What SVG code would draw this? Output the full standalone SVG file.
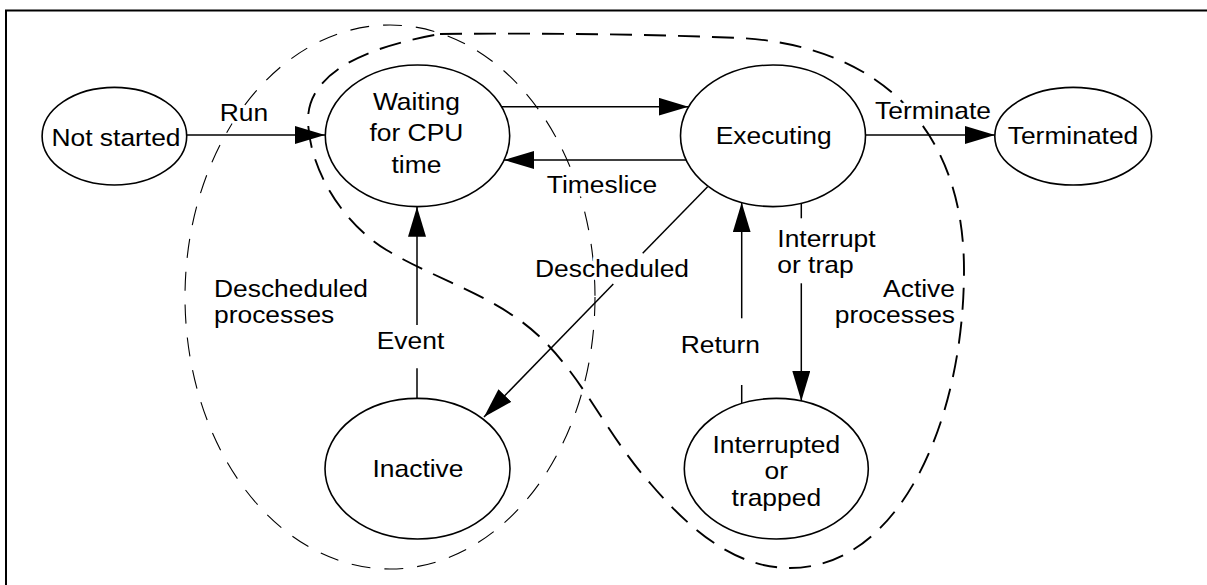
<svg xmlns="http://www.w3.org/2000/svg" width="1207" height="585" viewBox="0 0 1207 585">
<style>
  text { font-family: "Liberation Sans", Arial, Helvetica, sans-serif; font-size: 24px; fill: #000; }
  .mid { text-anchor: middle; }
  .end { text-anchor: end; }
  #labels text { stroke: #fff; stroke-width: 7px; stroke-linejoin: round; paint-order: stroke fill; }
  .node ellipse { fill: #fff; stroke: #000; stroke-width: 1.6; }
  .conn line { stroke: #000; stroke-width: 1.5; fill: none; }
  .region { fill: none; stroke: #000; }
  .thin { stroke-width: 1.1; stroke-dasharray: 19 14; }
  .thick { stroke-width: 1.9; stroke-dasharray: 22 12; }
  .frame { fill: none; stroke: #000; stroke-width: 2; }
</style>
<defs>
  <marker id="arrow" markerUnits="userSpaceOnUse" markerWidth="30" markerHeight="18" refX="30" refY="9" orient="auto">
    <path d="M0,0 L30,9 L0,18 Z" fill="#000"/>
  </marker>
</defs>
<rect width="1207" height="585" fill="#fff"/>
<rect class="frame" x="6" y="10.5" width="1220" height="600"/>

<g id="regions">
  <ellipse id="descheduled-region" class="region thin" cx="390" cy="297" rx="205" ry="272"/>
  <path id="active-region" class="region thick" d="M440,34 C540,33 640,34 740,38 C870,45 964,120 964,270 C964,420 900,568 790,568 C735,568 690,530 650,483 C609,438 584,379 540,337 C497,296 436.5,280 386.5,250 C343.5,224 309,170 308,120 C308,65 386,43.6 440,34 Z"/>
</g>

<g id="connectors" class="conn">
  <line x1="187" y1="135" x2="325" y2="135" marker-end="url(#arrow)"/>
  <line x1="501.5" y1="106.7" x2="688.5" y2="106.7" marker-end="url(#arrow)"/>
  <line x1="686" y1="160" x2="504" y2="160" marker-end="url(#arrow)"/>
  <line x1="865.5" y1="135" x2="995" y2="135" marker-end="url(#arrow)"/>
  <line x1="707.6" y1="186.7" x2="642.7" y2="253.3"/>
  <line x1="613.3" y1="284" x2="484" y2="417" marker-end="url(#arrow)"/>
  <line x1="417" y1="398.4" x2="417" y2="368.3"/>
  <line x1="417" y1="325" x2="417" y2="206.8" marker-end="url(#arrow)"/>
  <line x1="741.7" y1="403.6" x2="741.7" y2="385"/>
  <line x1="741.7" y1="318.3" x2="741.7" y2="202.4" marker-end="url(#arrow)"/>
  <line x1="801.3" y1="203.2" x2="801.3" y2="218.3"/>
  <line x1="801.3" y1="283.3" x2="801.3" y2="401" marker-end="url(#arrow)"/>
</g>

<g id="node-not-started" class="node">
  <ellipse cx="114.4" cy="136.2" rx="72.3" ry="48.8"/>
  <text class="mid" transform="translate(116,145.7) scale(1.1,1)">Not started</text>
</g>
<g id="node-waiting" class="node">
  <ellipse cx="417.5" cy="135.8" rx="92.2" ry="70.8"/>
  <text class="mid" transform="translate(416.4,110) scale(1.1,1)"><tspan x="0" y="0">Waiting</tspan><tspan x="0" y="31.5">for CPU</tspan><tspan x="0" y="62.7">time</tspan></text>
</g>
<g id="node-executing" class="node">
  <ellipse cx="773" cy="135.8" rx="92.5" ry="70.8"/>
  <text class="mid" transform="translate(773.7,144.3) scale(1.1,1)">Executing</text>
</g>
<g id="node-terminated" class="node">
  <ellipse cx="1073.2" cy="136.2" rx="78.4" ry="48.8"/>
  <text class="mid" transform="translate(1073,143.5) scale(1.1,1)">Terminated</text>
</g>
<g id="node-inactive" class="node">
  <ellipse cx="417.5" cy="468.7" rx="92.5" ry="70.3"/>
  <text class="mid" transform="translate(418,476.7) scale(1.1,1)">Inactive</text>
</g>
<g id="node-interrupted" class="node">
  <ellipse cx="776.3" cy="468.7" rx="92" ry="70.3"/>
  <text class="mid" transform="translate(776.3,452.7) scale(1.1,1)"><tspan x="0" y="0">Interrupted</tspan><tspan x="0" y="26.6">or</tspan><tspan x="0" y="53">trapped</tspan></text>
</g>

<g id="labels">
  <text class="mid" transform="translate(244,121) scale(1.1,1)">Run</text>
  <text class="mid" transform="translate(933,119) scale(1.1,1)">Terminate</text>
  <text class="mid" transform="translate(602,193.3) scale(1.1,1)">Timeslice</text>
  <text class="mid" transform="translate(612,276.7) scale(1.1,1)">Descheduled</text>
  <text class="mid" transform="translate(410.5,349.3) scale(1.1,1)">Event</text>
  <text class="mid" transform="translate(720.4,353.3) scale(1.1,1)">Return</text>
  <text transform="translate(777.3,246.7) scale(1.1,1)"><tspan x="0" y="0">Interrupt</tspan><tspan x="0" y="26.6">or trap</tspan></text>
  <text class="end" transform="translate(955,296.7) scale(1.1,1)"><tspan x="0" y="0">Active</tspan><tspan x="0" y="26.6">processes</tspan></text>
  <text transform="translate(214,296.7) scale(1.1,1)"><tspan x="0" y="0">Descheduled</tspan><tspan x="0" y="26.6">processes</tspan></text>
</g>
</svg>
